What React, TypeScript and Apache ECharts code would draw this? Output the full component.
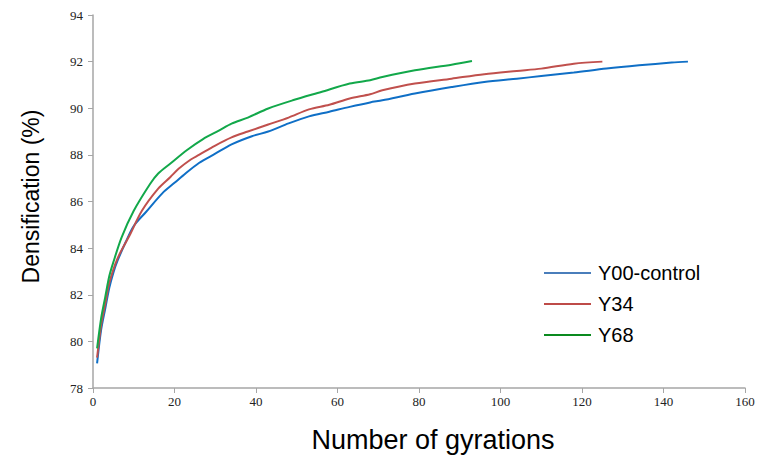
import React, { useEffect, useRef } from "react";
import * as echarts from "echarts";

const seriesNames = ["Y00-control", "Y34", "Y68"];
const seriesColors = ["#0F6FC6", "#C0504D", "#12A84A"];
const legendColors = ["#4A7EBB", "#BE4B48", "#0A8A1F"];

const gyrationsY00 = [1, 2, 3, 4, 5, 6, 8, 10, 13, 17, 20, 22, 26, 30, 34, 39, 43, 48, 53, 58, 63, 68, 71, 79, 88, 96, 104, 110, 118, 126, 134, 142, 146];
const densY00 = [79.06, 80.5, 81.4, 82.3, 82.95, 83.45, 84.25, 84.95, 85.55, 86.35, 86.8, 87.1, 87.65, 88.05, 88.45, 88.8, 89.0, 89.35, 89.65, 89.85, 90.06, 90.25, 90.34, 90.63, 90.91, 91.13, 91.27, 91.38, 91.53, 91.7, 91.84, 91.96, 92.0];

const gyrationsY34 = [1, 2, 3, 4, 6, 9, 12, 16, 19, 21, 24, 26, 30, 34, 38, 43, 48, 53, 58, 63, 68, 71, 79, 88, 96, 104, 110, 118, 125];
const densY34 = [79.3, 80.7, 81.6, 82.5, 83.55, 84.55, 85.6, 86.55, 87.05, 87.4, 87.8, 88.0, 88.4, 88.75, 89.0, 89.3, 89.6, 89.95, 90.15, 90.42, 90.6, 90.77, 91.06, 91.27, 91.46, 91.6, 91.7, 91.91, 92.0];

const gyrationsY68 = [1, 2, 3, 4, 5, 7, 10, 14, 16, 19, 23, 27, 31, 34, 38, 43, 49, 56, 63, 68, 71, 79, 88, 93];
const densY68 = [79.7, 81.0, 81.9, 82.8, 83.4, 84.45, 85.6, 86.75, 87.2, 87.63, 88.2, 88.68, 89.05, 89.34, 89.6, 89.99, 90.34, 90.7, 91.06, 91.2, 91.34, 91.63, 91.87, 92.03];

const xTicks = { min: 0, max: 160, interval: 20 };
const yTicks = { min: 78, max: 94, interval: 2 };

const pair = (xs: number[], ys: number[]) => xs.map((x, i) => [x, ys[i]]);

export default function App() {
  const ref = useRef<HTMLDivElement>(null);
  useEffect(() => {
    if (!ref.current) return;
    const chart = echarts.init(ref.current, null, { renderer: "svg" });
    const data = [pair(gyrationsY00, densY00), pair(gyrationsY34, densY34), pair(gyrationsY68, densY68)];
    const axisLabelStyle = { fontFamily: "Liberation Serif", fontSize: 13, color: "#222" };
    chart.setOption({
      animation: false,
      backgroundColor: "#ffffff",
      grid: { left: 93, right: 14, top: 15, bottom: 78 },
      xAxis: {
        type: "value",
        min: xTicks.min,
        max: xTicks.max,
        interval: xTicks.interval,
        name: "Number of gyrations",
        nameLocation: "middle",
        nameGap: 38,
        nameTextStyle: { fontFamily: "Liberation Sans", fontSize: 27, color: "#000", padding: [0, 0, 0, 28] },
        axisLine: { show: true, lineStyle: { color: "#A6A6A6", width: 1.5 } },
        axisTick: { show: true, length: 5, lineStyle: { color: "#A6A6A6" } },
        axisLabel: { ...axisLabelStyle, margin: 7 },
        splitLine: { show: false },
      },
      yAxis: {
        type: "value",
        min: yTicks.min,
        max: yTicks.max,
        interval: yTicks.interval,
        name: "Densification (%)",
        nameLocation: "middle",
        nameGap: 51,
        nameTextStyle: { fontFamily: "Liberation Sans", fontSize: 23, color: "#000", padding: [0, 0, 0, 10] },
        axisLine: { show: true, lineStyle: { color: "#A6A6A6", width: 1.5 } },
        axisTick: { show: true, length: 5, lineStyle: { color: "#A6A6A6" } },
        axisLabel: { ...axisLabelStyle, margin: 10 },
        splitLine: { show: false },
      },
      legend: {
        orient: "vertical",
        left: 539,
        top: 258,
        itemWidth: 47,
        itemHeight: 14,
        itemGap: 11,
        icon: "path://M0,6 L47,6 L47,8 L0,8 Z",
        textStyle: { fontFamily: "Liberation Sans", fontSize: 20, color: "#000", padding: [0, 0, 0, 2] },
        data: seriesNames.map((n, i) => ({ name: n, itemStyle: { color: legendColors[i] } })),
      },
      series: seriesNames.map((n, i) => ({
        name: n,
        type: "line",
        data: data[i],
        symbol: "none",
        smooth: 0.3,
        lineStyle: { color: seriesColors[i], width: 2 },
        itemStyle: { color: seriesColors[i] },
      })),
    });
    return () => chart.dispose();
  }, []);
  return <div ref={ref} style={{ width: 759, height: 466, position: "absolute", left: 0, top: 0 }} />;
}
